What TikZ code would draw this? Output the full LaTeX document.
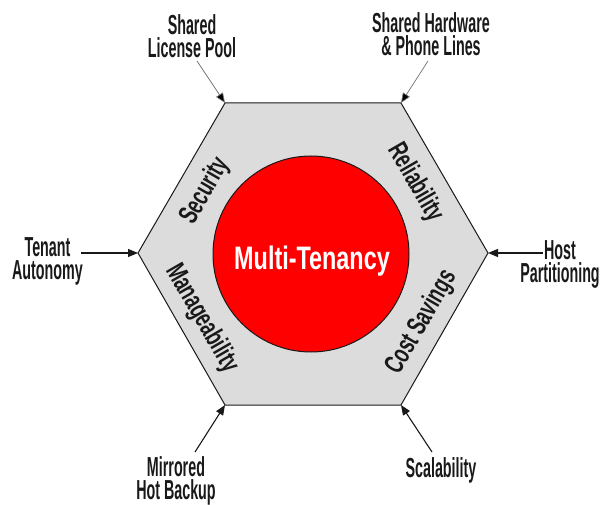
\documentclass[tikz,border=0pt]{standalone}
\usepackage{fontspec}
\setmainfont{Liberation Sans}
\newfontfamily\labfont{Liberation Sans}[FakeStretch=0.52]
\newfontfamily\infont{Liberation Sans}[FakeStretch=0.66]
\newfontfamily\mtfont{Liberation Sans}[FakeStretch=0.72]
\usetikzlibrary{arrows.meta}
\definecolor{hexfill}{RGB}{220,220,220}
\definecolor{inkc}{RGB}{25,25,25}
\begin{document}
\begin{tikzpicture}[x=1pt,y=-1pt,
  outer/.style={font=\labfont\bfseries\fontsize{27.5}{23}\selectfont, align=center, text=inkc, inner sep=0pt, anchor=north},
  inner/.style={font=\infont\bfseries\fontsize{27.5}{27.5}\selectfont, text=inkc, inner sep=0pt},
  arr/.style={draw=inkc, line width=1.1pt, -{Triangle[length=10pt,width=8pt]}},
  arrlight/.style={draw=black!55, line width=0.7pt, -{Triangle[length=10pt,width=8pt,fill=black]}}
]
\useasboundingbox (0,0) rectangle (603,505);
% hexagon vertices
\coordinate (TL) at (225,103);
\coordinate (TR) at (401,103);
\coordinate (R)  at (488,253);
\coordinate (BR) at (401,405);
\coordinate (BL) at (225,405);
\coordinate (L)  at (138,253);
\draw[fill=hexfill, draw=inkc, line width=1pt, line join=miter] (TL) -- (TR) -- (R) -- (BR) -- (BL) -- (L) -- cycle;
% circle
\node[circle, fill=red, draw=inkc, line width=1pt, minimum size=196pt, inner sep=0pt] (hub) at (311,254) {};
\node[font=\mtfont\bfseries\fontsize{32.5}{32.5}\selectfont, text=white, inner sep=0pt, anchor=base] (mt) at (312,270) {Multi-Tenancy};
% inner labels
\node[inner, rotate=60]  (sec) at (205,191) {Security};
\node[inner, rotate=-60] (rel) at (415,183) {Reliability};
\node[inner, rotate=-60] (man) at (201.5,318.5) {Manageability};
\node[inner, rotate=60]  (cost) at (421.5,322.5) {Cost Savings};
% outer labels
\node[outer] (slp) at (192,14) {Shared\\License Pool};
\node[outer] (shw) at (431,12) {Shared Hardware\\\& Phone Lines};
\node[outer] (ta)  at (47.5,237) {Tenant\\Autonomy};
\node[outer] (hp)  at (560,240) {Host\\Partitioning};
\node[outer] (mhb) at (176,456) {Mirrored\\Hot Backup};
\node[outer] (sc)  at (441,457) {Scalability};
% arrow start points
\coordinate (sTL) at (197,61);
\coordinate (sTR) at (428,61);
\coordinate (sL)  at (81,253);
\coordinate (sR)  at (543,253);
\coordinate (sBL) at (195,452);
\coordinate (sBR) at (432,452);
\draw[arrlight] (sTL) -- (TL);
\draw[arrlight] (sTR) -- (TR);
\draw[arr] (sL) -- (L);
\draw[arr] (sR) -- (R);
\draw[arr] (sBL) -- (BL);
\draw[arr] (sBR) -- (BR);
\end{tikzpicture}
\end{document}
